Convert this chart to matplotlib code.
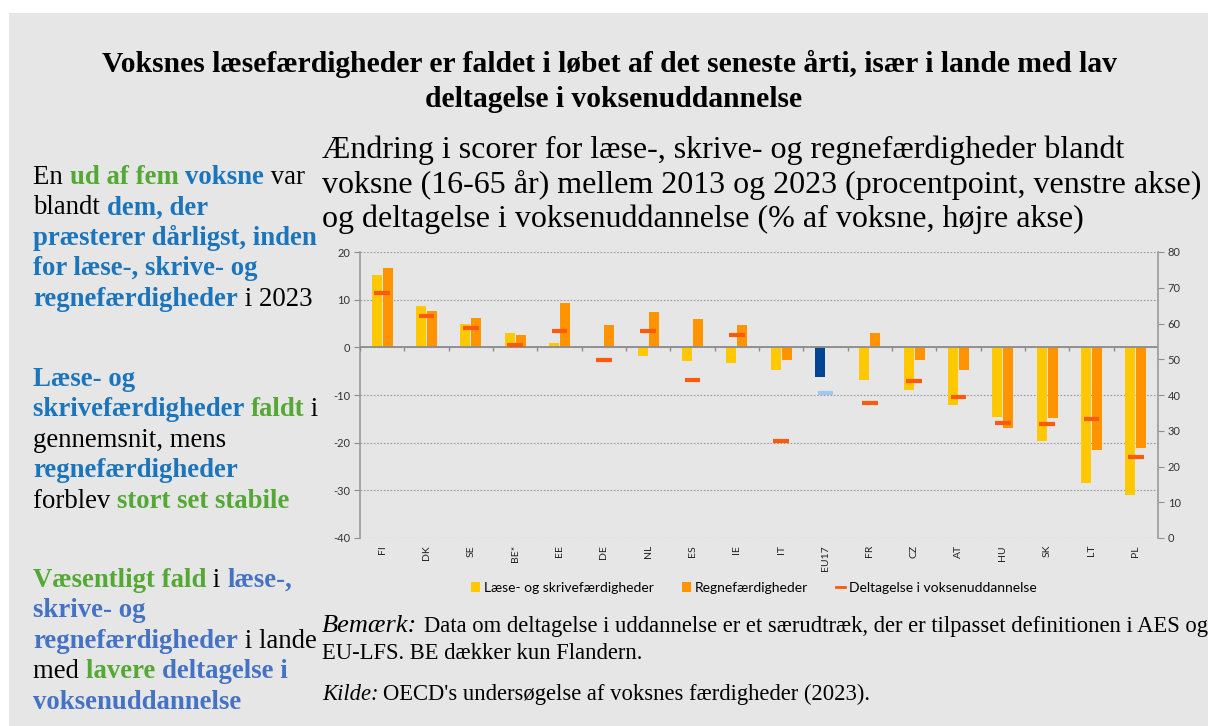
import numpy as np
import matplotlib
matplotlib.use("Agg")
import matplotlib.pyplot as plt
from matplotlib.patches import Rectangle, Patch
from matplotlib.lines import Line2D
from matplotlib.font_manager import FontProperties

# data
countries = ["FI", "DK", "SE", "BE*", "EE", "DE", "NL", "ES", "IE", "IT",
             "EU17", "FR", "CZ", "AT", "HU", "SK", "LT", "PL"]
literacy = [15.2, 8.7, 4.9, 3.0, 0.9, 0.0, -1.8, -2.9, -3.3, -4.7,
            -6.2, -6.9, -8.9, -12.1, -14.6, -19.7, -28.5, -31.0]
numeracy = [16.7, 7.6, 6.2, 2.6, 9.3, 4.7, 7.4, 5.9, 4.7, -2.6,
            0.0, 3.0, -2.6, -4.7, -16.9, -14.8, -21.5, -21.1]
participation = [68.4, 62.0, 58.8, 54.1, 58.0, 49.9, 58.0, 44.3, 56.9, 27.2,
                 40.6, 37.9, 44.0, 39.5, 32.2, 32.0, 33.4, 22.7]
left_ticks = [20, 10, 0, -10, -20, -30, -40]
right_ticks = [0, 10, 20, 30, 40, 50, 60, 70, 80]

W, H = 1208, 726
YEL = "#ffc800"
ORA = "#ff9400"
PART = "#ff5a0a"
EUBLUE = "#004494"
EULIGHT = "#9fc8f0"
GREEN = "#54a834"
BLUE = "#1b75bc"
BLUE2 = "#4472c4"
GRID = "#9a9a9a"
SERIF = "Liberation Serif"
SANS = "Lato"

fig = plt.figure(figsize=(W / 100, H / 100), dpi=100, facecolor="white")
fig.patches.append(Rectangle((9 / W, 0), 1, 1 - 13 / H, transform=fig.transFigure,
                             facecolor="#e6e6e6", edgecolor="none", zorder=-10))

def fx(px):
    return px / W

def fy(py):
    return 1 - py / H

# title
fig.text(fx(610), fy(72), "Voksnes læsefærdigheder er faldet i løbet af det seneste årti, især i lande med lav",
         ha="center", va="baseline", fontsize=21.3, fontweight="bold", family=SERIF)
fig.text(fx(614), fy(107), "deltagelse i voksenuddannelse",
         ha="center", va="baseline", fontsize=21.3, fontweight="bold", family=SERIF)

# chart heading
sub = ["Ændring i scorer for læse-, skrive- og regnefærdigheder blandt",
       "voksne (16-65 år) mellem 2013 og 2023 (procentpoint, venstre akse)",
       "og deltagelse i voksenuddannelse (% af voksne, højre akse)"]
for i, s in enumerate(sub):
    fig.text(fx(322), fy(158 + 34.5 * i), s, ha="left", va="baseline",
             fontsize=23, family=SERIF)

# left side text with coloured runs
renderer = fig.canvas.get_renderer()

def twidth(s, size, weight):
    fp = FontProperties(family=SERIF, size=size, weight=weight)
    a = renderer.get_text_width_height_descent("|" + s + "|", fp, ismath=False)[0]
    b = renderer.get_text_width_height_descent("||", fp, ismath=False)[0]
    return a - b

def runs_line(x0, y0, runs, size=19.3):
    x = x0
    for txt, col, bold in runs:
        w = "bold" if bold else "normal"
        fig.text(fx(x), fy(y0), txt, color=col, fontsize=size, fontweight=w,
                 family=SERIF, ha="left", va="baseline")
        x += twidth(txt, size, w)

K = "black"
block1 = [
    [("En ", K, False), ("ud af fem ", GREEN, True), ("voksne", BLUE, True), (" var", K, False)],
    [("blandt ", K, False), ("dem, der", BLUE, True)],
    [("præsterer dårligst, inden", BLUE, True)],
    [("for læse-, skrive- og", BLUE, True)],
    [("regnefærdigheder", BLUE, True), (" i 2023", K, False)],
]
block2 = [
    [("Læse- og", BLUE, True)],
    [("skrivefærdigheder ", BLUE, True), ("faldt", GREEN, True), (" i", K, False)],
    [("gennemsnit, mens", K, False)],
    [("regnefærdigheder", BLUE, True)],
    [("forblev ", K, False), ("stort set stabile", GREEN, True)],
]
block3 = [
    [("Væsentligt fald", GREEN, True), (" i ", K, False), ("læse-,", BLUE2, True)],
    [("skrive- og", BLUE2, True)],
    [("regnefærdigheder", BLUE2, True), (" i lande", K, False)],
    [("med ", K, False), ("lavere ", GREEN, True), ("deltagelse i", BLUE2, True)],
    [("voksenuddannelse", BLUE2, True)],
]
for top, block in [(184, block1), (386, block2), (587, block3)]:
    for i, runs in enumerate(block):
        runs_line(33, top + 30.4 * i, runs)

# chart
ax = fig.add_axes([fx(360), fy(538), (1158 - 360) / W, (538 - 252) / H])
ax.set_facecolor("none")
x = np.arange(len(countries))
bw = 0.23
lit_colors = [EUBLUE if c == "EU17" else YEL for c in countries]
num_colors = [EUBLUE if c == "EU17" else ORA for c in countries]
ax.bar(x - 0.125, literacy, width=bw, color=lit_colors, zorder=3)
ax.bar(x + 0.125, numeracy, width=bw, color=num_colors, zorder=3)
ax.set_xlim(-0.5, len(countries) - 0.5)
ax.set_ylim(-40, 20)
ax.set_yticks(left_ticks)
ax.set_yticklabels([str(t) for t in left_ticks], fontsize=8, family=SANS, color="#333333")
ax.yaxis.grid(True, color=GRID, lw=0.8, ls=(0, (1.5, 1.5)), zorder=0)
ax.axhline(0, color="#8c8c8c", lw=1.3, zorder=4)
ax.vlines(np.arange(len(countries) + 1) - 0.5, -0.85, 0, color="#8c8c8c", lw=1.0, zorder=4)
ax.set_xticks(x)
ax.set_xticklabels(countries, rotation=90, fontsize=7.5, family=SANS, color="#222222")
ax.tick_params(axis="x", length=0, pad=5)
ax.tick_params(axis="y", length=4, color="#8c8c8c", pad=3)
for s in ["top", "bottom", "right"]:
    ax.spines[s].set_visible(False)
ax.spines["left"].set_color("#9a9a9a")
ax.spines["left"].set_linewidth(1.2)

ax2 = ax.twinx()
ax2.set_ylim(0, 80)
ax2.set_yticks(right_ticks)
ax2.set_yticklabels([str(t) for t in right_ticks], fontsize=8, family=SANS, color="#333333")
ax2.tick_params(axis="y", length=4, color="#8c8c8c", pad=3)
for s in ["top", "bottom", "left"]:
    ax2.spines[s].set_visible(False)
ax2.spines["right"].set_color("#9a9a9a")
ax2.spines["right"].set_linewidth(1.2)
part_colors = [EULIGHT if c == "EU17" else PART for c in countries]
ax2.scatter(x, participation, marker="_", s=11.5 ** 2, linewidths=3.0, c=part_colors, zorder=5)

handles = [Patch(facecolor=YEL), Patch(facecolor=ORA), Line2D([], [], color=PART, lw=2)]
labels = ["Læse- og skrivefærdigheder", "Regnefærdigheder", "Deltagelse i voksenuddannelse"]
fig.legend(handles, labels, loc="center", bbox_to_anchor=(fx(754), fy(588)), ncol=3,
           frameon=False, handlelength=0.65, handleheight=0.65, handletextpad=0.3,
           columnspacing=2.0, prop=FontProperties(family=SANS, size=10))

# note and source
fig.text(fx(322), fy(632), "Bemærk:", fontsize=19, style="italic", family=SERIF, va="baseline")
fig.text(fx(424), fy(632), "Data om deltagelse i uddannelse er et særudtræk, der er tilpasset definitionen i AES og",
         fontsize=16.3, family=SERIF, va="baseline")
fig.text(fx(322), fy(659), "EU-LFS. BE dækker kun Flandern.", fontsize=16.3, family=SERIF, va="baseline")
fig.text(fx(322), fy(700), "Kilde:", fontsize=16.3, style="italic", family=SERIF, va="baseline")
fig.text(fx(383), fy(700), "OECD's undersøgelse af voksnes færdigheder (2023).",
         fontsize=16.3, family=SERIF, va="baseline")

fig.savefig("out.png", dpi=100, facecolor="white")
